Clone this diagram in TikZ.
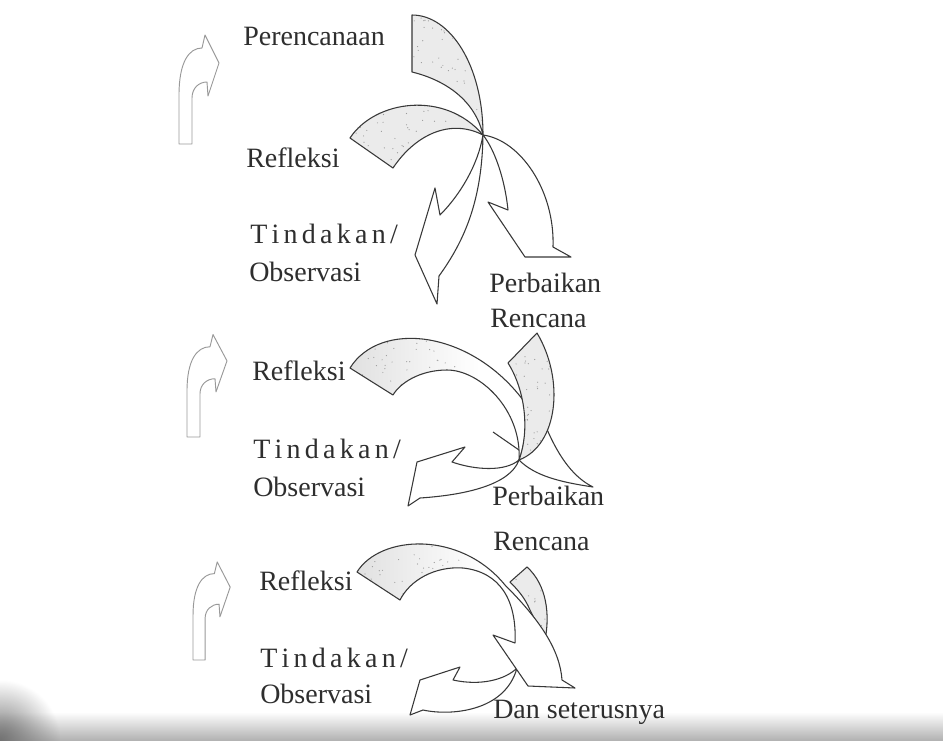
\documentclass[tikz,border=0pt]{standalone}
\usepackage{fontspec}
\setmainfont{Liberation Serif}
\usetikzlibrary{fadings}
\tikzfading[name=cornerfade, inner color=transparent!0, outer color=transparent!100]
\newcommand\tkk{\kern3.2pt\relax}
\newcommand\tindakan{T\tkk i\tkk n\tkk d\tkk a\tkk k\tkk a\tkk n\tkk/}
\newcommand\speckle[5]{\foreach \i in {1,...,#5}{\fill[black!40] ({#1+rnd*#3},{#2+rnd*#4}) circle (0.45pt);}}
\begin{document}
\begin{tikzpicture}[x=0.75pt,y=-0.75pt,
  lbl/.style={anchor=base west, inner sep=0pt, text=black!82, font=\fontsize{21}{25}\selectfont},
  ln/.style={draw=black!78, line width=0.8pt, line join=round},
  wht/.style={fill=white},
  side/.style={draw=black!40, line width=0.7pt, fill=white, line join=round}]
\useasboundingbox (0,0) rectangle (943,740);
\fill[white] (0,0) rectangle (943,740);
\pgfmathsetseed{7}
% scan shadow at the bottom
\shade[top color=white, bottom color=black!30] (0,712) rectangle (943,740);
\begin{scope}
  \clip (0,680) rectangle (80,740);
  \fill[black!55, path fading=cornerfade] (-60,680) rectangle (60,800);
\end{scope}

% ---------- left turning arrows ----------
\def\sidearrow{(0,0) -- (0,-49) .. controls (0,-82) and (10,-96) .. (23,-96) -- (26,-109) -- (40,-81) -- (29,-48) -- (28,-62) .. controls (20,-62) and (13,-56) .. (13,-46) -- (13,0) -- cycle}
\draw[side, shift={(179,144)}] \sidearrow;
\draw[side, shift={(187,437)}, yscale=0.94] \sidearrow;
\draw[side, shift={(193,660)}, xscale=0.93, yscale=0.9] \sidearrow;

% ---------- cluster 1 ----------
\draw[ln,wht] (483,135) .. controls (478,165) and (460,195) .. (440,215) -- (435,188) -- (415,255) -- (437,304) -- (439,276) .. controls (465,240) and (482,200) .. (483,135) -- cycle;
\draw[ln,wht] (483,135) .. controls (520,140) and (555,190) .. (553,247) -- (571,257) -- (525,257) -- (488,202) -- (508,210) .. controls (505,180) and (495,150) .. (483,135) -- cycle;
\def\refA{(350,138) .. controls (375,100) and (445,90) .. (483,135) .. controls (450,118) and (415,135) .. (393,168) -- cycle}
\fill[black!8] \refA;
\begin{scope}\clip \refA; \speckle{345}{95}{140}{75}{80}\end{scope}
\draw[ln] \refA;
\def\perA{(412,15) -- (412,72) .. controls (445,80) and (475,100) .. (483,135) .. controls (483,65) and (450,15) .. (412,15) -- cycle}
\fill[black!8] \perA;
\begin{scope}\clip \perA; \speckle{410}{12}{75}{125}{80}\end{scope}
\draw[ln] \perA;

% ---------- cluster 2 ----------
\draw[ln,wht] (519,460) .. controls (535,476) and (560,482) .. (593,487) .. controls (575,478) and (560,460) .. (546,427);
\draw[ln] (493,432) -- (519,450);
\draw[ln,wht] (519,460) .. controls (505,472) and (475,470) .. (452,462) -- (465,447) -- (417,462) -- (408,506) -- (420,498) .. controls (465,495) and (510,485) .. (519,460) -- cycle;
\def\refB{(350,368) .. controls (380,320) and (470,330) .. (523,400) .. controls (528,420) and (525,445) .. (519,460) .. controls (522,410) and (480,370) .. (447,370) .. controls (420,370) and (400,383) .. (393,395) -- cycle}
\fill[white] \refB;
\begin{scope}\clip \refB;
  \shade[left color=black!12, right color=white] (348,330) rectangle (480,400);
  \speckle{350}{335}{110}{60}{55}
\end{scope}
\draw[ln] \refB;
\def\renB{(537,333) -- (508,363) .. controls (525,390) and (530,430) .. (519,460) .. controls (558,445) and (565,380) .. (537,333) -- cycle}
\fill[black!8] \renB;
\begin{scope}\clip \renB; \speckle{505}{330}{60}{130}{60}\end{scope}
\draw[ln] \renB;

% ---------- cluster 3 ----------
\draw[ln,wht] (517,668) .. controls (505,680) and (480,686) .. (453,680) -- (460,667) -- (420,680) -- (410,715) -- (423,710) .. controls (450,716) and (505,712) .. (517,668) -- cycle;
\def\renC{(527,567) -- (510,582) .. controls (518,590) and (525,598) .. (530,610) -- (545,640) .. controls (550,615) and (547,585) .. (527,567) -- cycle}
\fill[black!8] \renC;
\begin{scope}\clip \renC; \speckle{508}{565}{45}{75}{20}\end{scope}
\draw[ln] \renC;
\def\bigC{(357,572) .. controls (380,535) and (460,530) .. (505,585) .. controls (540,620) and (560,650) .. (562,680) -- (575,688) -- (528,686) -- (493,635) -- (515,643) .. controls (517,600) and (500,572) .. (463,568) .. controls (435,566) and (410,580) .. (400,600) -- cycle}
\fill[white] \bigC;
\begin{scope}\clip \bigC;
  \shade[left color=black!12, right color=white] (355,535) rectangle (485,605);
  \speckle{355}{538}{110}{60}{55}
\end{scope}
\draw[ln] \bigC;

% ---------- labels ----------
\node[lbl] (per1) at (243,45) {Perencanaan};
\node[lbl] (ref1) at (246,167) {Refleksi};
\node[lbl] (tin1) at (250,243) {\tindakan};
\node[lbl] (obs1) at (249,281) {Observasi};
\node[lbl] (pb1) at (489,292) {Perbaikan};
\node[lbl] (ren1) at (490,327) {Rencana};
\node[lbl] (ref2) at (252,380) {Refleksi};
\node[lbl] (tin2) at (253,458) {\tindakan};
\node[lbl] (obs2) at (253,496) {Observasi};
\node[lbl] (pb2) at (492,505) {Perbaikan};
\node[lbl] (ren2) at (493,550) {Rencana};
\node[lbl] (ref3) at (259,590) {Refleksi};
\node[lbl] (tin3) at (260,667) {\tindakan};
\node[lbl] (obs3) at (260,703) {Observasi};
\node[lbl] (dan) at (493,718) {Dan seterusnya};
\end{tikzpicture}
\end{document}
